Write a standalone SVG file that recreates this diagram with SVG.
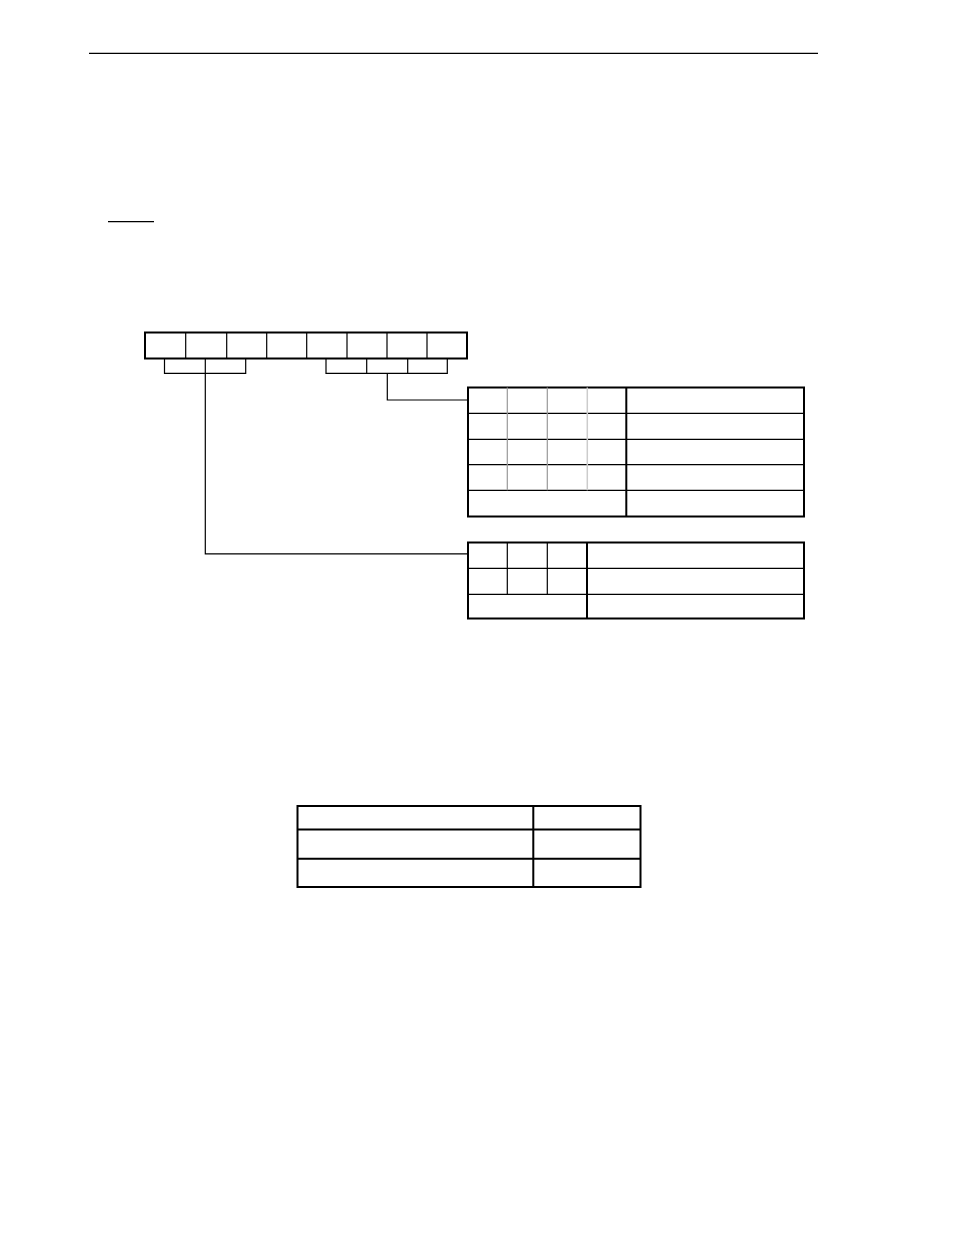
<svg xmlns="http://www.w3.org/2000/svg" width="954" height="1235" viewBox="0 0 954 1235">
<style>
.thin{stroke:#000;stroke-width:1.2;fill:none}
.thick{stroke:#000;stroke-width:2;fill:none}
.gray{stroke:#999;stroke-width:1.2;fill:none}
.lgray{stroke:#ccc;stroke-width:1.5;fill:none}
</style>
<rect width="954" height="1235" fill="#fff"/>
<g id="header">
<line class="thin" x1="89" y1="53.3" x2="818" y2="53.3"/>
<line class="thin" x1="108" y1="221.7" x2="154" y2="221.7"/>
</g>
<g id="register">
<rect class="thick" x="145" y="332.5" width="322" height="26"/>
<path class="thin" d="M185.7 332.5V358.5M226.7 332.5V358.5M266.7 332.5V358.5M306.7 332.5V358.5M347 332.5V358.5M387 332.5V358.5M427 332.5V358.5"/>
</g>
<g id="bracket-left">
<path class="thin" d="M164.5 358.5V373.3H245.7V358.5M205.3 358.5V373.3"/>
</g>
<g id="bracket-right">
<path class="thin" d="M326 358.5V373.3H447.3V358.5M366.7 358.5V373.3M407.7 358.5V373.3"/>
</g>
<g id="connectors">
<path class="thin" d="M387.3 373.3V400H468"/>
<path class="thin" d="M205.3 373.3V553.8H468"/>
</g>
<g id="table1">
<rect class="thick" x="468" y="387.5" width="336" height="129"/>
<path class="thin" d="M468 413.3H804M468 439.3H804M468 464.7H804M468 490.3H804"/>
<path class="gray" d="M507.3 387.5V490.3M547.3 387.5V490.3"/>
<path class="lgray" d="M587.3 387.5V490.3"/>
<path class="thick" d="M626.3 387.5V516.5"/>
</g>
<g id="table2">
<rect class="thick" x="468" y="542.5" width="336" height="76"/>
<path class="thin" d="M468 568.3H804M468 594.3H804M507.3 542.5V594.3M547.3 542.5V594.3"/>
<path class="thick" d="M587 542.5V618.5"/>
</g>
<g id="table3">
<rect class="thick" x="297.5" y="806" width="343" height="81"/>
<path class="thick" d="M297.5 829.5H640.5M297.5 858.7H640.5M533.3 806V887"/>
</g>
</svg>
